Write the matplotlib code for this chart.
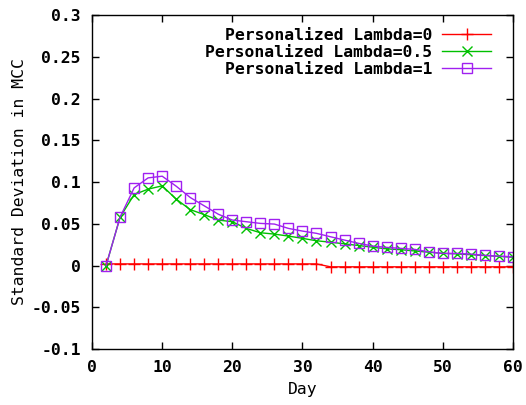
import numpy as np
import matplotlib
matplotlib.use("Agg")
import matplotlib.pyplot as plt

days = np.arange(2, 61, 2)

# Personalized Lambda = 0
lam0 = [0.002] * 16 + [-0.0015] * 14

# Personalized Lambda = 0.5
lam05 = [0.0, 0.058, 0.085, 0.0915, 0.0955, 0.0795, 0.067, 0.061, 0.0545, 0.0525,
         0.0445, 0.0393, 0.0377, 0.0353, 0.0326, 0.0297, 0.028, 0.026, 0.024, 0.022,
         0.020, 0.019, 0.0175, 0.016, 0.0146, 0.014, 0.013, 0.012, 0.011, 0.010]

# Personalized Lambda = 1
lam1 = [0.0, 0.058, 0.093, 0.105, 0.107, 0.095, 0.0815, 0.0715, 0.0615, 0.0545,
        0.0525, 0.0505, 0.0497, 0.0445, 0.0413, 0.0386, 0.0345, 0.0305, 0.0266, 0.0234,
        0.0218, 0.0206, 0.0194, 0.0165, 0.0146, 0.0146, 0.0138, 0.0122, 0.0114, 0.0105]

labels = ["Personalized Lambda=0", "Personalized Lambda=0.5", "Personalized Lambda=1"]

plt.rcParams['font.family'] = ['DejaVu Sans Mono']
plt.rcParams['font.weight'] = 'bold'
plt.rcParams['font.size'] = 11.8

fig = plt.figure(figsize=(5.26, 4.05), dpi=100)
ax = fig.add_axes([0.175, 0.138, 0.800, 0.825])

ax.plot(days, lam0, color='#ff0000', lw=1, marker='+', ms=8, mew=1, label=labels[0])
ax.plot(days, lam05, color='#00c000', lw=1, marker='x', ms=7, mew=1, label=labels[1])
ax.plot(days, lam1, color='#a020f0', lw=1, marker='s', ms=7, mew=1, mfc='none', label=labels[2])

ax.set_xlim(0, 60)
ax.set_ylim(-0.1, 0.3)
ax.set_xticks(np.arange(0, 61, 10))
ax.set_yticks(np.arange(-0.1, 0.31, 0.05))
ax.set_yticklabels(["-0.1", "-0.05", "0", "0.05", "0.1", "0.15", "0.2", "0.25", "0.3"])
ax.tick_params(direction='in', top=True, right=True, length=5, width=1, pad=8)
for s in ax.spines.values():
    s.set_linewidth(1)

ax.set_xlabel("Day", labelpad=5)
ax.set_ylabel("Standard Deviation in MCC", labelpad=3)

ax.legend(loc='upper right', frameon=False, markerfirst=False, handlelength=3.0,
          handletextpad=0.6, labelspacing=0.12, borderaxespad=0.4, bbox_to_anchor=(0.98, 1.0))

plt.savefig("out.png", dpi=100)
